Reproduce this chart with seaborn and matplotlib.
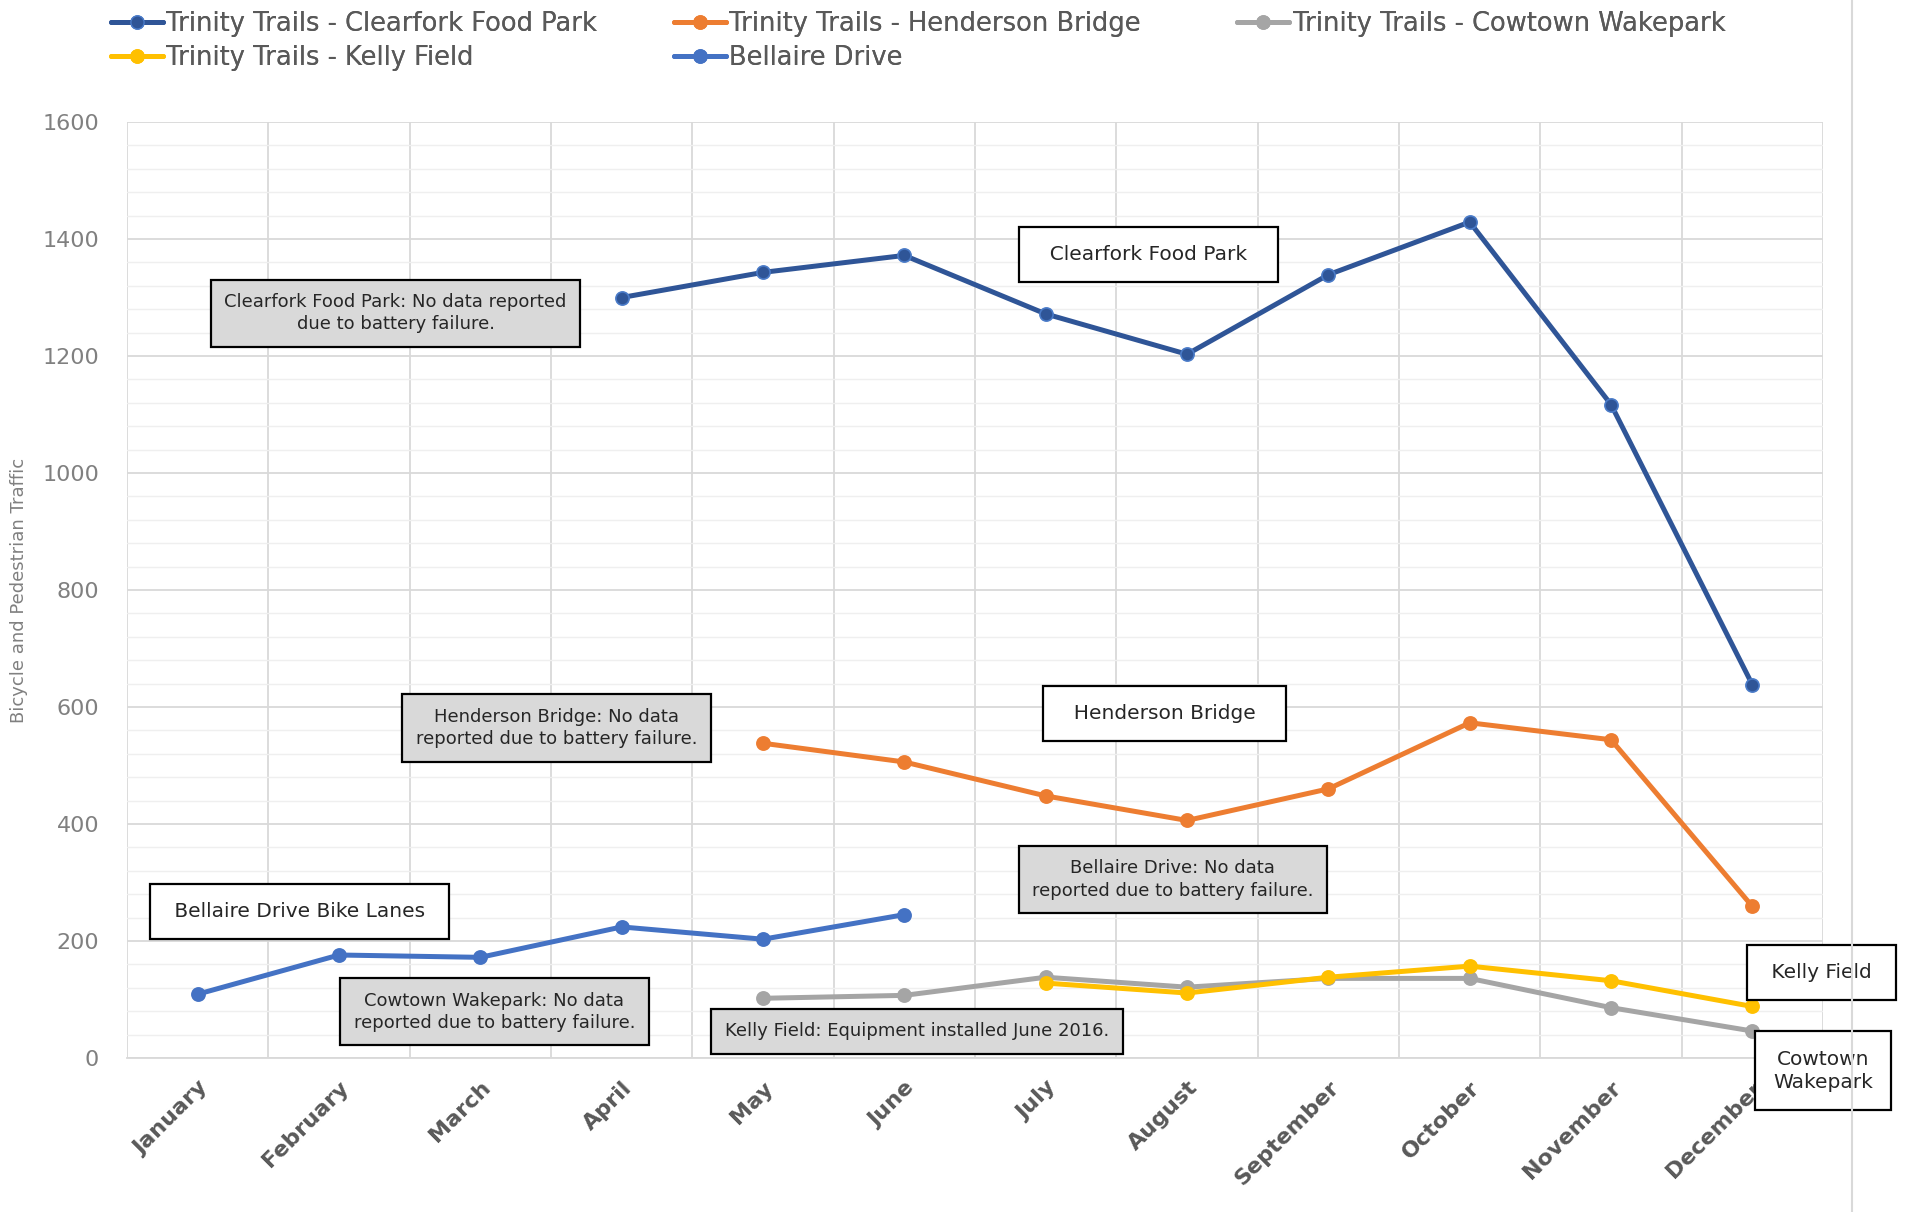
import numpy as np
import pandas as pd
import matplotlib
matplotlib.use("Agg")
import matplotlib.pyplot as plt
from matplotlib.lines import Line2D
from matplotlib.ticker import MultipleLocator
import seaborn as sns

months = ["January", "February", "March", "April", "May", "June", "July",
          "August", "September", "October", "November", "December"]
nan = np.nan
clearfork = [nan, nan, nan, 1300, 1343, 1372, 1272, 1203, 1339, 1429, 1117, 638]
henderson = [nan, nan, nan, nan, 538, 506, 448, 406, 460, 573, 544, 259]
cowtown = [nan, nan, nan, nan, 102, 107, 138, 121, 136, 136, 86, 46]
kelly = [nan, nan, nan, nan, nan, nan, 128, 111, 138, 157, 132, 88]
bellaire = [109, 176, 172, 224, 203, 245, nan, nan, nan, nan, nan, nan]

series_names = ["Trinity Trails - Clearfork Food Park", "Trinity Trails - Henderson Bridge",
                "Trinity Trails - Cowtown Wakepark", "Trinity Trails - Kelly Field", "Bellaire Drive"]
series_values = [clearfork, henderson, cowtown, kelly, bellaire]
colors = ["#2F5597", "#ED7D31", "#A5A5A5", "#FFC000", "#4472C4"]
edge_colors = ["#4A7BC8", "#ED7D31", "#A5A5A5", "#FFC000", "#4472C4"]

sns.set_theme(style="white")
plt.rcParams['font.family'] = ['DejaVu Sans']

fig = plt.figure(figsize=(19.18, 12.12), dpi=100)
ax = fig.add_axes([0.0662, 0.1271, 0.9505 - 0.0662, 0.8993 - 0.1271])

x_idx = np.arange(len(months))
for name, vals, col, ec in zip(series_names, series_values, colors, edge_colors):
    df = pd.DataFrame({"m": x_idx, "v": vals}).dropna()
    sns.lineplot(data=df, x="m", y="v", ax=ax, color=col, linewidth=3.6,
                 marker="o", markersize=9.5, markeredgecolor=ec, markeredgewidth=1.2,
                 label=name)

if ax.get_legend():
    ax.get_legend().remove()

ax.set_xlim(-0.5, 11.5)
ax.set_ylim(0, 1600)
ax.yaxis.set_major_locator(MultipleLocator(200))
ax.yaxis.set_minor_locator(MultipleLocator(40))
ax.set_xticks(x_idx)
ax.set_xticks(np.arange(-0.5, 12, 1), minor=True)
ax.set_xticklabels(months, rotation=45, ha="right", rotation_mode="anchor",
                   fontsize=16, fontweight="bold", color="#595959")
ax.tick_params(axis="x", which="both", length=0, pad=14)
ax.tick_params(axis="y", which="both", length=0, labelsize=16, labelcolor="#808080", pad=20)
ax.grid(which="major", axis="y", color="#d9d9d9", linewidth=1.3)
ax.grid(which="minor", axis="y", color="#efefef", linewidth=1.0)
ax.grid(which="minor", axis="x", color="#d9d9d9", linewidth=1.3)
ax.grid(which="major", axis="x", visible=False)
ax.set_axisbelow(True)
for s in ["top", "right", "left"]:
    ax.spines[s].set_visible(False)
ax.spines["bottom"].set_color("#d9d9d9")
ax.spines["bottom"].set_linewidth(1.3)
ax.set_xlabel("")
ax.set_ylabel("Bicycle and Pedestrian Traffic", fontsize=13, color="#808080", labelpad=10)

gray_box = dict(boxstyle="square,pad=0.75", fc="#d9d9d9", ec="black", lw=1.6)
white_box = dict(boxstyle="square,pad=0.9", fc="white", ec="black", lw=1.6)
notes = [
    (1.40, 1273, "Clearfork Food Park: No data reported\ndue to battery failure.", gray_box, 13),
    (2.54, 564, "Henderson Bridge: No data\nreported due to battery failure.", gray_box, 13),
    (6.90, 305, "Bellaire Drive: No data\nreported due to battery failure.", gray_box, 13),
    (2.10, 79, "Cowtown Wakepark: No data\nreported due to battery failure.", gray_box, 13),
    (5.09, 46, "Kelly Field: Equipment installed June 2016.", gray_box, 13),
    (6.73, 1374, "  Clearfork Food Park  ", white_box, 14.5),
    (6.84, 589, "  Henderson Bridge  ", white_box, 14.5),
    (0.72, 250, " Bellaire Drive Bike Lanes ", white_box, 14.5),
    (11.49, 146, " Kelly Field ", white_box, 14.5),
    (11.50, -22, "Cowtown\nWakepark", white_box, 14.5),
]
for x, y, txt, box, fs in notes:
    ax.text(x, y, txt, ha="center", va="center", fontsize=fs, color="#262626",
            bbox=box, zorder=5, clip_on=False, linespacing=1.3)

handles = [Line2D([0], [0], color=c, lw=3.6, marker="o", markersize=9.5,
                  markeredgecolor=e) for c, e in zip(colors, edge_colors)]
columns = [([0, 3], 0.0580), ([1, 4], 0.3515), ([2], 0.6452)]
for idxs, xpos in columns:
    leg = fig.legend([handles[i] for i in idxs], [series_names[i] for i in idxs],
                     loc="upper left", bbox_to_anchor=(xpos, 0.991), ncol=1,
                     frameon=False, fontsize=18.5, labelcolor="#595959",
                     handlelength=2.0, handletextpad=0.15, labelspacing=0.32,
                     borderpad=0, borderaxespad=0)
    fig.add_artist(leg)

fig.add_artist(Line2D([1852 / 1918, 1852 / 1918], [0, 1], color="#d9d9d9", lw=1.5,
                      transform=fig.transFigure))

fig.savefig("out.png", dpi=100, facecolor="white")
